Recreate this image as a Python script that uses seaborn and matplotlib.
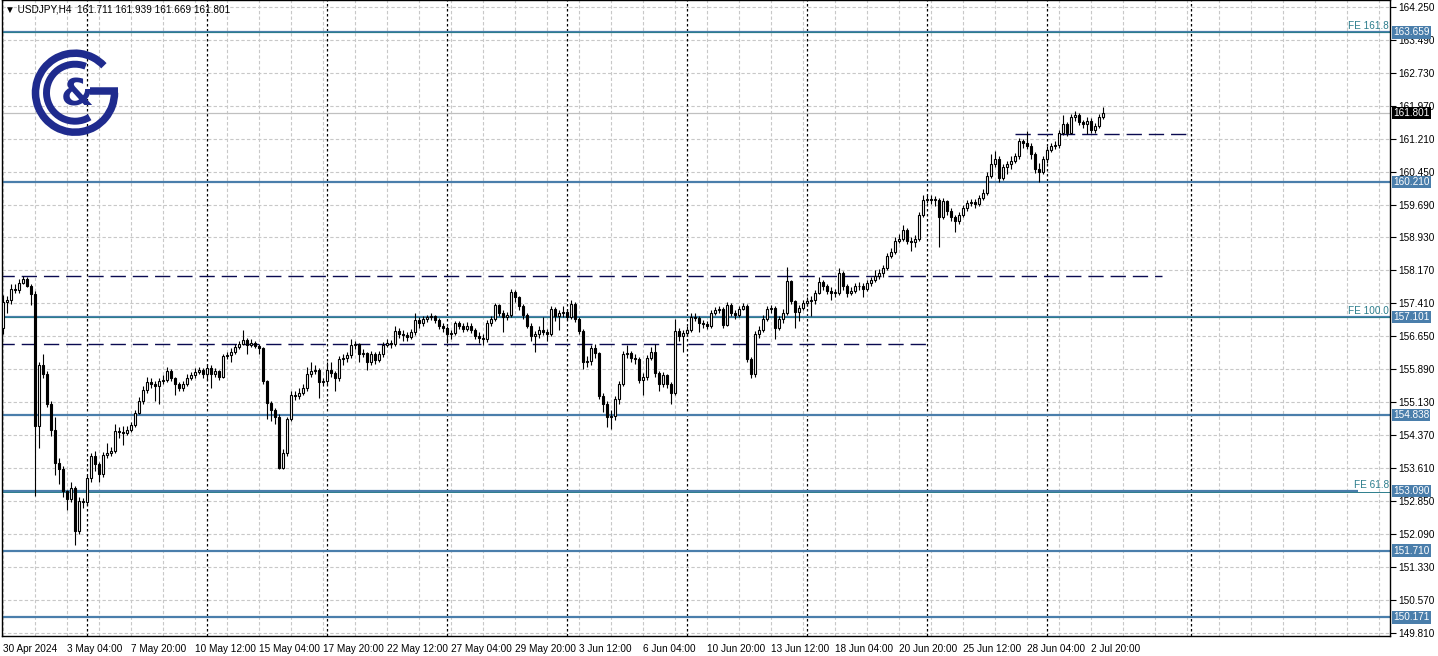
import numpy as np
import pandas as pd
import seaborn as sns
import matplotlib.pyplot as plt
from matplotlib.patches import Arc
from matplotlib.transforms import blended_transform_factory

# USDJPY H4, one value per bar (bar 0 = 30 Apr 12:00)
first_open = 156.85
closes = [
    157.45, 157.50, 157.75, 157.72, 157.88, 157.98, 157.82, 157.62, 154.58, 156.00,
    155.78, 155.10, 154.50, 153.73, 153.59, 153.08, 152.90, 153.16, 152.16, 152.85,
    152.82, 153.38, 153.90, 153.70, 153.48, 153.92, 153.95, 154.00, 154.47, 154.45,
    154.42, 154.50, 154.60, 154.88, 155.16, 155.41, 155.60, 155.55, 155.50, 155.62,
    155.65, 155.85, 155.70, 155.55, 155.45, 155.55, 155.70, 155.75, 155.83, 155.87,
    155.78, 155.92, 155.78, 155.85, 155.72, 156.20, 156.22, 156.30, 156.40, 156.48,
    156.57, 156.45, 156.50, 156.42, 156.38, 155.62, 155.12, 154.95, 154.80, 153.62,
    153.95, 154.75, 155.30, 155.28, 155.35, 155.45, 155.78, 155.85, 155.88, 155.60,
    155.62, 155.88, 155.80, 155.68, 156.13, 156.15, 156.22, 156.45, 156.47, 156.25,
    156.27, 156.07, 156.25, 156.10, 156.25, 156.45, 156.50, 156.48, 156.78, 156.70,
    156.68, 156.63, 156.75, 157.02, 156.95, 157.05, 157.10, 157.13, 157.03, 156.90,
    156.85, 156.70, 156.72, 156.95, 156.90, 156.82, 156.90, 156.80, 156.65, 156.62,
    156.58, 156.95, 157.05, 157.38, 157.20, 157.10, 157.15, 157.68, 157.55, 157.35,
    157.15, 156.90, 156.65, 156.70, 156.80, 156.75, 156.70, 157.28, 157.12, 157.18,
    157.22, 157.10, 157.40, 157.05, 156.77, 156.05, 156.08, 156.38, 156.27, 155.27,
    155.10, 154.78, 154.82, 155.20, 155.55, 156.25, 156.27, 156.15, 156.12, 155.65,
    155.72, 156.15, 156.30, 155.80, 155.55, 155.75, 155.55, 155.35, 156.78, 156.65,
    156.72, 156.80, 157.10, 157.08, 156.95, 156.93, 156.90, 157.18, 157.25, 157.28,
    156.92, 157.38, 157.20, 157.15, 157.27, 157.35, 156.13, 155.78, 156.70, 156.80,
    157.05, 157.28, 157.30, 156.85, 157.05, 157.20, 157.92, 157.47, 157.22, 157.30,
    157.42, 157.46, 157.50, 157.66, 157.90, 157.80, 157.70, 157.65, 157.66, 158.10,
    157.80, 157.66, 157.70, 157.80, 157.82, 157.75, 157.87, 157.95, 158.05, 158.10,
    158.22, 158.50, 158.60, 158.85, 158.90, 159.10, 158.85, 158.82, 158.90, 159.45,
    159.80, 159.82, 159.80, 159.80, 159.40, 159.78, 159.55, 159.40, 159.30, 159.45,
    159.60, 159.72, 159.75, 159.70, 159.85, 159.95, 160.35, 160.62, 160.75, 160.30,
    160.55, 160.62, 160.70, 160.80, 161.15, 161.10, 161.05, 160.85, 160.50, 160.45,
    160.75, 160.95, 161.05, 161.07, 161.35, 161.55, 161.35, 161.70, 161.75, 161.60,
    161.55, 161.62, 161.40, 161.50, 161.711, 161.801]

highs = [
    157.60, 157.58, 157.85, 157.85, 157.97, 158.05, 158.02, 157.86, 157.70, 156.05,
    156.25, 155.85, 155.15, 154.78, 153.85, 153.65, 153.10, 153.30, 153.20, 152.95,
    152.92, 153.45, 153.95, 154.00, 153.75, 153.98, 154.20, 154.10, 154.62, 154.55,
    154.58, 154.58, 154.68, 154.95, 155.25, 155.50, 155.72, 155.70, 155.62, 155.70,
    155.75, 155.95, 155.90, 155.72, 155.60, 155.62, 155.78, 155.82, 155.92, 155.95,
    155.92, 156.02, 156.00, 155.92, 155.88, 156.25, 156.30, 156.38, 156.48, 156.55,
    156.80, 156.62, 156.58, 156.55, 156.47, 156.40, 155.65, 155.15, 155.00, 154.85,
    154.05, 154.80, 155.38, 155.40, 155.45, 155.55, 155.95, 156.05, 155.98, 155.92,
    155.70, 156.05, 156.05, 155.85, 156.20, 156.25, 156.30, 156.58, 156.55, 156.50,
    156.35, 156.30, 156.32, 156.30, 156.32, 156.52, 156.58, 156.56, 156.88, 156.85,
    156.80, 156.75, 156.82, 157.18, 157.10, 157.12, 157.15, 157.18, 157.15, 157.08,
    156.95, 156.88, 156.80, 157.00, 157.00, 156.95, 156.98, 156.95, 156.85, 156.75,
    156.70, 157.02, 157.12, 157.42, 157.40, 157.25, 157.22, 157.75, 157.72, 157.58,
    157.40, 157.20, 156.95, 156.78, 156.88, 157.10, 156.82, 157.35, 157.32, 157.25,
    157.35, 157.28, 157.48, 157.45, 157.10, 156.82, 156.20, 156.45, 156.47, 156.30,
    155.35, 155.15, 154.95, 155.28, 155.62, 156.32, 156.45, 156.32, 156.25, 156.18,
    155.80, 156.22, 156.40, 156.48, 155.85, 155.82, 155.78, 155.60, 157.05, 156.85,
    156.80, 156.88, 157.18, 157.20, 157.12, 157.02, 157.00, 157.25, 157.32, 157.35,
    157.32, 157.45, 157.42, 157.25, 157.35, 157.42, 157.40, 156.18, 156.78, 156.88,
    157.15, 157.35, 157.38, 157.35, 157.12, 157.28, 158.25, 157.95, 157.50, 157.38,
    157.50, 157.55, 157.58, 157.72, 158.02, 157.95, 157.85, 157.78, 157.75, 158.22,
    158.15, 157.85, 157.78, 157.88, 157.90, 157.88, 157.95, 158.02, 158.18, 158.20,
    158.30, 158.58, 158.68, 158.95, 159.00, 159.22, 159.15, 158.95, 158.98, 159.52,
    159.90, 159.92, 159.90, 159.88, 159.85, 159.85, 159.80, 159.60, 159.45, 159.52,
    159.68, 159.80, 159.82, 159.82, 159.92, 160.05, 160.45, 160.85, 160.92, 160.80,
    160.62, 160.70, 160.82, 160.88, 161.22, 161.20, 161.38, 161.10, 160.90, 160.65,
    160.82, 161.05, 161.12, 161.15, 161.42, 161.75, 161.60, 161.78, 161.85, 161.80,
    161.65, 161.70, 161.68, 161.58, 161.78, 161.939]

lows = [
    156.70, 157.20, 157.40, 157.65, 157.66, 157.85, 157.78, 157.38, 152.97, 154.08,
    155.70, 155.02, 154.35, 153.45, 153.25, 152.95, 152.65, 152.82, 151.83, 152.10,
    152.70, 152.75, 153.30, 153.55, 153.30, 153.40, 153.85, 153.90, 153.95, 154.30,
    154.15, 154.38, 154.45, 154.55, 154.85, 155.10, 155.35, 155.45, 155.15, 155.10,
    155.55, 155.60, 155.62, 155.30, 155.38, 155.38, 155.50, 155.65, 155.70, 155.78,
    155.70, 155.65, 155.45, 155.72, 155.65, 155.68, 156.12, 156.05, 156.25, 156.35,
    156.45, 156.25, 156.40, 156.38, 156.25, 155.55, 154.75, 154.70, 154.62, 153.60,
    153.58, 153.90, 154.70, 155.18, 155.20, 155.30, 155.40, 155.72, 155.78, 155.22,
    155.50, 155.55, 155.72, 155.40, 155.62, 156.00, 156.05, 156.15, 156.35, 156.05,
    156.18, 155.88, 156.00, 156.02, 156.05, 156.18, 156.40, 156.38, 156.42, 156.62,
    156.55, 156.55, 156.60, 156.68, 156.85, 156.90, 156.98, 157.02, 156.95, 156.82,
    156.75, 156.50, 156.60, 156.68, 156.82, 156.75, 156.78, 156.72, 156.58, 156.50,
    156.45, 156.52, 156.90, 157.00, 157.12, 156.75, 157.02, 157.10, 157.45, 157.25,
    157.05, 156.85, 156.55, 156.30, 156.62, 156.68, 156.55, 156.65, 157.00, 156.80,
    157.10, 157.02, 157.05, 156.98, 156.70, 155.90, 155.95, 156.00, 156.15, 155.20,
    154.90, 154.55, 154.52, 154.72, 155.10, 155.50, 156.15, 156.05, 156.02, 155.58,
    155.30, 155.65, 156.10, 155.72, 155.40, 155.48, 155.45, 155.10, 155.30, 156.55,
    156.30, 156.65, 156.75, 157.00, 156.75, 156.85, 156.82, 156.85, 157.15, 157.20,
    156.85, 156.88, 157.12, 157.05, 157.10, 157.25, 156.05, 155.70, 155.72, 156.62,
    156.75, 157.00, 157.18, 156.60, 156.80, 156.95, 157.15, 157.40, 156.85, 157.00,
    157.25, 157.35, 157.12, 157.40, 157.62, 157.72, 157.62, 157.50, 157.55, 157.60,
    157.72, 157.55, 157.60, 157.65, 157.72, 157.55, 157.70, 157.82, 157.90, 157.98,
    158.02, 158.18, 158.45, 158.55, 158.80, 158.85, 158.78, 158.62, 158.70, 158.85,
    159.40, 159.72, 159.70, 159.65, 158.70, 159.35, 159.45, 159.30, 159.05, 159.25,
    159.40, 159.55, 159.65, 159.62, 159.65, 159.80, 159.90, 160.30, 160.55, 160.22,
    160.25, 160.40, 160.50, 160.65, 160.75, 161.00, 160.98, 160.75, 160.42, 160.20,
    160.40, 160.65, 160.90, 160.98, 161.00, 161.30, 161.28, 161.32, 161.62, 161.52,
    161.45, 161.32, 161.35, 161.35, 161.45, 161.669]

# horizontal levels (steel blue) and their labels
levels = [163.659, 160.210, 157.101, 154.838, 153.090, 151.710, 150.171]
fe_levels = [163.659, 157.101, 153.070]
fe_names = ["FE 161.8", "FE 100.0", "FE 61.8"]
# dashed trend levels: price, first bar, last bar
dash_prices = [158.04, 156.47, 161.31]
dash_start = [-1, -1, 253]
dash_end = [289.75, 231, 297]
last_price = 161.801

price_ticks = [149.810, 150.570, 151.330, 152.090, 152.850, 153.610, 154.370, 155.130,
               155.890, 156.650, 157.410, 158.170, 158.930, 159.690, 160.450, 161.210,
               161.970, 162.730, 163.490, 164.250]
date_labels = ["30 Apr 2024", "3 May 04:00", "7 May 20:00", "10 May 12:00", "15 May 04:00",
               "17 May 20:00", "22 May 12:00", "27 May 04:00", "29 May 20:00", "3 Jun 12:00",
               "6 Jun 04:00", "10 Jun 20:00", "13 Jun 12:00", "18 Jun 04:00", "20 Jun 20:00",
               "25 Jun 12:00", "28 Jun 04:00", "2 Jul 20:00"]
week_bars = [21, 51, 81, 111, 141, 171, 201, 231, 261, 297]

df = pd.DataFrame({"close": closes, "high": highs, "low": lows})
df["open"] = [first_open] + closes[:-1]
df["bar"] = np.arange(len(df))

sns.set_style("white")
plt.rcParams["font.family"] = ["Liberation Sans", "DejaVu Sans"]

W, H = 1438, 656
STEEL = "#4a7eab"
fig = plt.figure(figsize=(W / 100, H / 100), dpi=100)
ax = fig.add_axes([2 / W, 20 / H, 1388 / W, 636 / H])
ax.set_xlim(-0.25, 346.75)
ax.set_ylim(149.74, 164.407)

# grid
for p in price_ticks:
    ax.axhline(p, color="#c8c8c8", lw=0.8, ls=(0, (3, 2)), zorder=0)
for b in range(0, 347, 8):
    ax.axvline(b, color="#c8c8c8", lw=0.8, ls=(0, (3, 2)), zorder=0)
for b in week_bars:
    ax.axvline(b, color="black", lw=0.9, ls=(0, (2, 2)), zorder=1)

# levels
for v in levels:
    end = 338.75 if v == 153.090 else 346.75
    ax.hlines(v, -0.25, end, color=STEEL, lw=1.6, zorder=1)
for v in fe_levels:
    ax.axhline(v, color="#2c7d8c", lw=0.7, zorder=1)
for p, a, b in zip(dash_prices, dash_start, dash_end):
    ax.hlines(p, a, b, color="#0a0a50", lw=1.0, ls=(0, (11, 5)), zorder=1)
ax.axhline(last_price, color="#c0c0c0", lw=0.9, zorder=1)

# candles
up = df["close"] >= df["open"]
ax.vlines(df["bar"], df["low"], df["high"], color="black", lw=0.8, zorder=2)
body_lo = df[["open", "close"]].min(axis=1)
body_h = (df["close"] - df["open"]).abs().clip(lower=0.012)
ax.bar(df["bar"], body_h, bottom=body_lo, width=0.66,
       color=np.where(up, "white", "black"), edgecolor="black", linewidth=0.8, zorder=3)

# axes styling
for s in ax.spines.values():
    s.set_color("black")
    s.set_linewidth(1)
ax.yaxis.tick_right()
ax.set_yticks(price_ticks)
ax.set_yticklabels([f"{p:.3f}" for p in price_ticks])
ax.tick_params(axis="y", direction="out", length=4, pad=2, labelsize=7.2, colors="black")
ax.set_xticks(np.arange(len(date_labels)) * 16)
ax.set_xticklabels(date_labels)
for lab in ax.get_xticklabels():
    lab.set_horizontalalignment("left")
ax.tick_params(axis="x", direction="out", length=4, pad=2, labelsize=7.2, colors="black")

tr = blended_transform_factory(ax.transAxes, ax.transData)
for v in levels:
    ax.text(1.0 + 3 / 1388, v, f"{v:.3f}", transform=tr, ha="left", va="center",
            fontsize=7.2, color="white", clip_on=False, zorder=10,
            bbox=dict(boxstyle="square,pad=0.12", fc=STEEL, ec="none"))
ax.text(1.0 + 3 / 1388, last_price, f"{last_price:.3f}", transform=tr, ha="left", va="center",
        fontsize=7.2, color="white", clip_on=False, zorder=10,
        bbox=dict(boxstyle="square,pad=0.12", fc="black", ec="none"))
for v, name in zip(fe_levels, fe_names):
    ax.text(1.0 - 1 / 1388, v + 0.03, name, transform=tr, ha="right", va="bottom",
            fontsize=7.2, color="#2c7d8c", zorder=10)

fig.text(5 / W, 1 - 10 / H, "\u25bc USDJPY,H4  161.711 161.939 161.669 161.801",
         va="center", ha="left", fontsize=7.2, color="black")

# logo
NAVY = "#1f2b8e"
lax = fig.add_axes([25 / W, 1 - 140 / H, 100 / W, 95 / H])
lax.set_xlim(25, 125)
lax.set_ylim(H - 140, H - 45)
lax.axis("off")
cx, cy = 75, H - 92.7
lax.add_patch(Arc((cx, cy), 79, 79, theta1=43, theta2=360, lw=5.4, color=NAVY, capstyle="butt"))
lax.plot([90, 118], [cy + 1.5, cy + 1.5], color=NAVY, lw=5.4, solid_capstyle="butt")
lax.add_patch(Arc((cx, cy), 57, 57, theta1=68, theta2=301, lw=5.0, color=NAVY, capstyle="butt"))
lax.text(77, cy - 3, "&", ha="center", va="center", fontsize=27, fontweight="bold",
         color=NAVY, family="DejaVu Sans")

fig.savefig("out.png", dpi=100, facecolor="white")
